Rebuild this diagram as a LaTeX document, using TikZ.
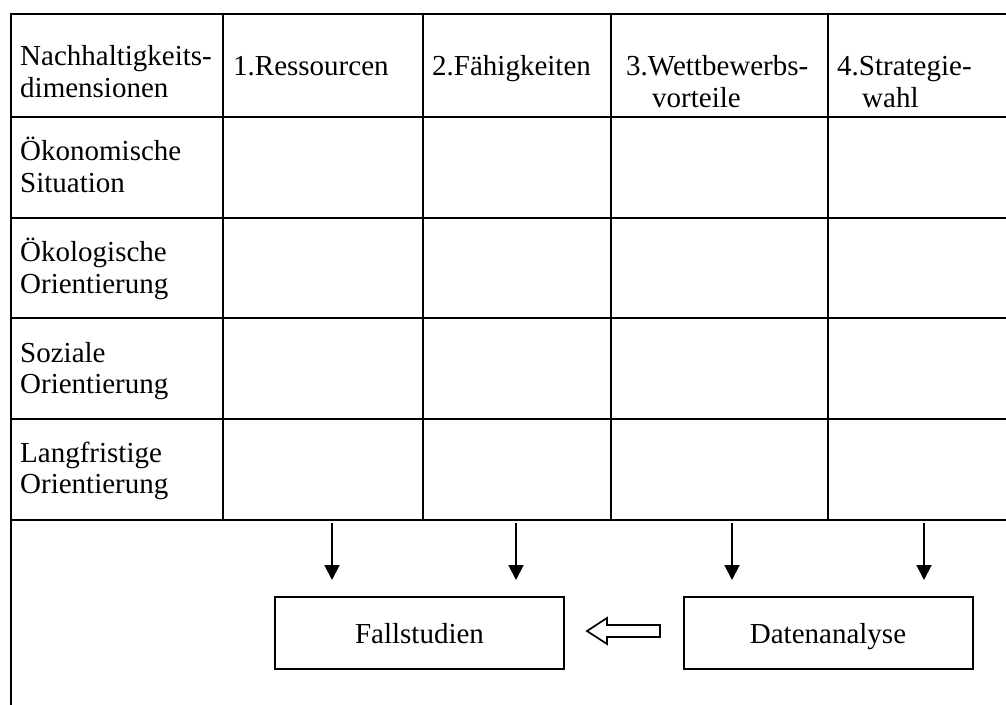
\documentclass[tikz,border=0pt]{standalone}
\usepackage{fontspec}
\setmainfont{Liberation Serif}
\usetikzlibrary{arrows.meta}
\begin{document}
\begin{tikzpicture}[x=1pt,y=-1pt,
  grid/.style={line width=2.5pt},
  txt/.style={anchor=base west, inner sep=0pt, font=\fontsize{29}{32.5}\selectfont},
  box/.style={draw, line width=2pt, minimum width=289pt, minimum height=72pt,
    inner sep=0pt, text height=20pt, text depth=0pt,
    font=\fontsize{29}{32.5}\selectfont},
  down/.style={line width=1.8pt, -{Triangle[length=15pt,width=15pt]}},
  hollow/.style={draw, line width=1.7pt, line join=miter, fill=white}]
\clip (0,0) rectangle (1006,704);
\fill[white] (0,0) rectangle (1006,704);

% outer frame (runs past the right and bottom edge)
\draw[grid] (11,14) rectangle (1020,720);

% table grid
\foreach \y in {117,218,318,419,520}
  \draw[grid] (11,\y) -- (1020,\y);
\foreach \x in {223,423,611,828}
  \draw[grid] (\x,14) -- (\x,520);

% header row
\node[txt] (h0a) at (20,65) {Nachhaltigkeits-};
\node[txt] (h0b) at (20,97) {dimensionen};
\node[txt] (h1) at (233,75) {1.Ressourcen};
\node[txt] (h2) at (432,75) {2.Fähigkeiten};
\node[txt] (h3a) at (626,75) {3.Wettbewerbs-};
\node[txt] (h3b) at (652,107) {vorteile};
\node[txt] (h4a) at (837,75) {4.Strategie-};
\node[txt] (h4b) at (862,107) {wahl};

% row labels
\node[txt] (r1a) at (20,160) {Ökonomische};
\node[txt] (r1b) at (20,192) {Situation};
\node[txt] (r2a) at (20,261) {Ökologische};
\node[txt] (r2b) at (20,293) {Orientierung};
\node[txt] (r3a) at (20,362) {Soziale};
\node[txt] (r3b) at (20,393) {Orientierung};
\node[txt] (r4a) at (20,462) {Langfristige};
\node[txt] (r4b) at (20,493) {Orientierung};

% method boxes
\node[box] (fall) at (419.5,633) {Fallstudien};
\node[box] (daten) at (828,633) {Datenanalyse};

% arrows from the table to the boxes
\foreach \n/\x in {a/332,b/516,c/732,d/924}{
  \coordinate (\n s) at (\x,523);
  \coordinate (\n e) at (\x,580);
  \draw[down] (\n s) -- (\n e);
}

% hollow block arrow pointing from Datenanalyse to Fallstudien
\draw[hollow] (587,631) -- (607,618) -- (607,625) -- (660,625)
  -- (660,637) -- (607,637) -- (607,644) -- cycle;
\end{tikzpicture}
\end{document}
